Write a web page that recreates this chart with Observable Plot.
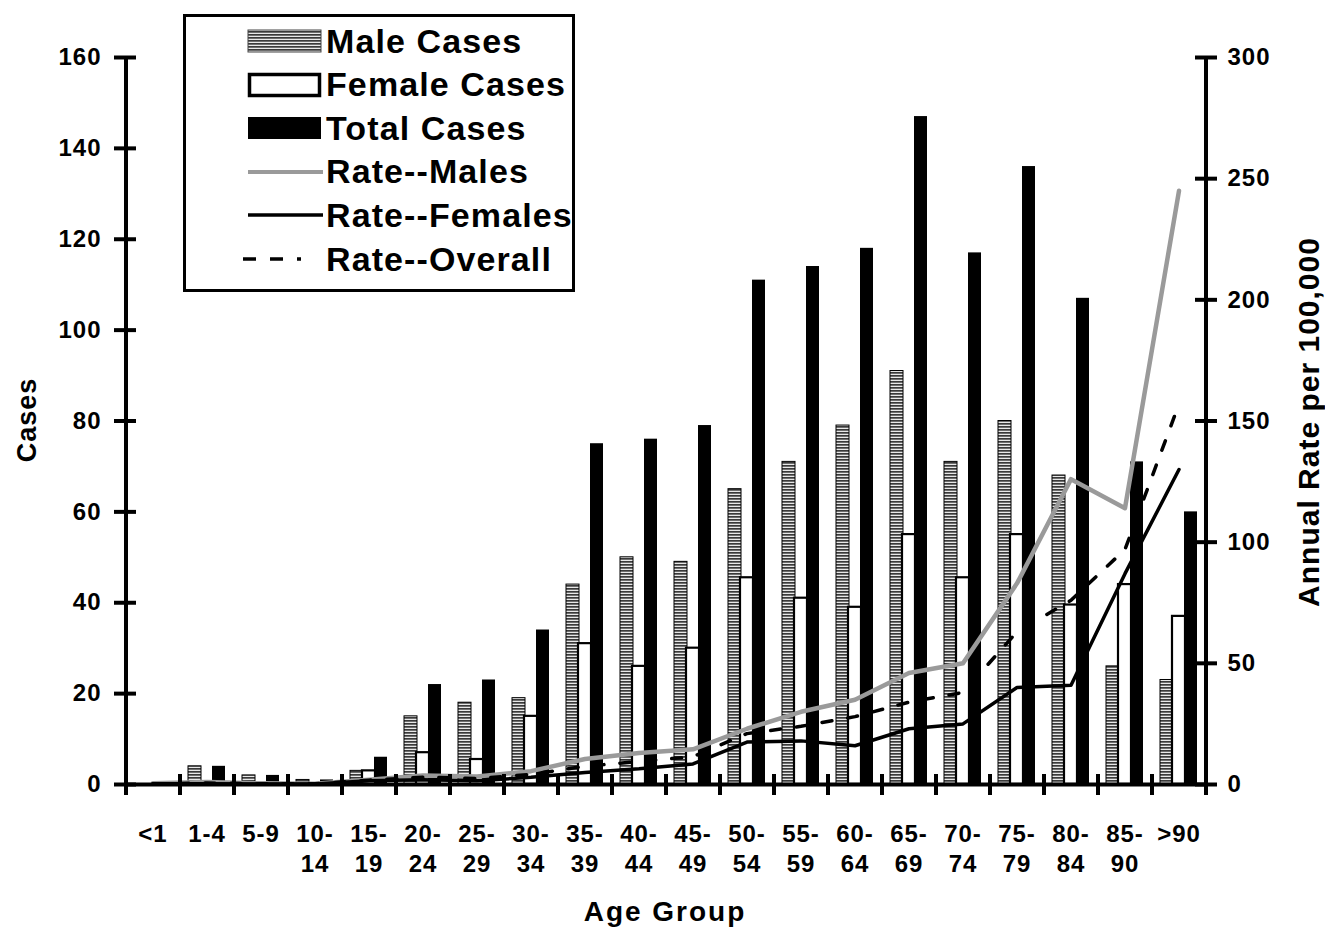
<!DOCTYPE html>
<html><head><meta charset="utf-8">
<script src="https://cdn.jsdelivr.net/npm/d3@7"></script>
<script src="https://cdn.jsdelivr.net/npm/@observablehq/plot@0.6"></script>
<style>
body{margin:0;background:#fff;font-family:"Liberation Sans",Arial,sans-serif;}
#wrap{position:relative;width:1325px;height:928px;overflow:hidden;}
#chart svg text{font-weight:bold;letter-spacing:1px;}
.t{position:absolute;font-weight:bold;color:#000;white-space:nowrap;}
#ytitle{left:27px;top:420px;transform:translate(-50%,-50%) rotate(-90deg);font-size:27px;letter-spacing:1px;}
#y2title{left:1309px;top:422px;transform:translate(-50%,-50%) rotate(-90deg);font-size:30px;letter-spacing:1px;}
#xtitle{left:665px;top:912px;transform:translate(-50%,-50%);font-size:28px;letter-spacing:2px;}
#legend{position:absolute;left:183px;top:14px;width:386px;height:272px;border:3px solid #000;background:#fff;}
.row{position:absolute;left:0;height:44px;display:flex;align-items:center;white-space:nowrap;}
.row svg{margin-left:57px;display:block;flex:none;}
.row span{font-size:34px;font-weight:bold;letter-spacing:1.1px;margin-left:1px;color:#000;white-space:nowrap;}
</style></head>
<body><div id="wrap"><div id="chart"></div><div id="legend"></div>
<div class="t" id="ytitle">Cases</div>
<div class="t" id="y2title">Annual Rate per 100,000</div>
<div class="t" id="xtitle">Age Group</div>
</div>
<script>
const ages = ["<1","1-4","5-9","10-\n14","15-\n19","20-\n24","25-\n29","30-\n34","35-\n39","40-\n44","45-\n49","50-\n54","55-\n59","60-\n64","65-\n69","70-\n74","75-\n79","80-\n84","85-\n90",">90"];
const maleCases   = [0,4,2,1,3,15,18,19,44,50,49,65,71,79,91,71,80,68,26,23];
const femaleCases = [0,0,0,0,3,7,5.5,15,31,26,30,45.5,41,39,55,45.5,55,39.5,44,37];
const totalCases  = [0,4,2,1,6,22,23,34,75,76,79,111,114,118,147,117,136,107,71,60];
const rateMales   = [0.5,1,0.5,0.3,2,3.7,3.3,5.5,10.5,13,14.5,23,30,35,46,50,83,126,114,245];
const rateFemales = [0.3,0.3,0.2,0.2,1.5,2,1.5,3,5,6.5,8.5,17.5,18,16,23,25,40,41,87,130];
const rateOverall = [0.3,0.6,0.3,0.3,1.8,3,2.5,4.2,7.5,9.5,11.5,21,24,28,34,38,63,76,97,157];
const caseTicks = [0,20,40,60,80,100,120,140,160];
const rateTicks = [0,50,100,150,200,250,300];
const caseMax = 160, rateMax = 300;
const r2c = r => r * caseMax / rateMax;

const rows = ages.map((age,i)=>({age, male:maleCases[i], female:femaleCases[i], total:totalCases[i],
  rm:rateMales[i], rf:rateFemales[i], ro:rateOverall[i]}));

function hatchDefs(){
  const defs = document.createElementNS("http://www.w3.org/2000/svg","defs");
  defs.innerHTML = '<pattern id="hatch" width="6" height="3" patternUnits="userSpaceOnUse"><rect width="6" height="3" fill="#e8e8e8"/><rect width="6" height="1.7" fill="#3a3a3a"/></pattern>';
  return defs;
}

const tickStyle = {strokeWidth:4, text:null, label:null};
const chart = Plot.plot({
  width:1325, height:928,
  marginLeft:125, marginRight:120, marginTop:57, marginBottom:144,
  style:{fontFamily:'"Liberation Sans", Arial, sans-serif', background:"#fff", color:"#000"},
  x:{domain:ages, type:"band", paddingInner:1-12.5/54, paddingOuter:(1-12.5/54)/2, axis:null},
  y:{domain:[0,caseMax], axis:null},
  marks:[
    hatchDefs,
    Plot.barY(rows,{x:"age", y:"male", dx:-12, fill:"url(#hatch)", stroke:"#000", strokeWidth:1}),
    Plot.barY(rows,{x:"age", y:"female", dx:0, fill:"#fff", stroke:"#000", strokeWidth:2.2}),
    Plot.barY(rows,{x:"age", y:"total", dx:12, fill:"#000"}),
    Plot.lineY(rows,{x:"age", y:d=>r2c(d.rm), stroke:"#9a9a9a", strokeWidth:4.5}),
    Plot.lineY(rows,{x:"age", y:d=>r2c(d.rf), stroke:"#000", strokeWidth:3.5}),
    Plot.lineY(rows,{x:"age", y:d=>r2c(d.ro), stroke:"#000", strokeWidth:3.5, strokeDasharray:"10,16"}),
    Plot.ruleY([0],{strokeWidth:4}),
    Plot.ruleX([ages[0]],{x:d=>d, dx:-27, y1:0, y2:caseMax, strokeWidth:4}),
    Plot.ruleX([ages[ages.length-1]],{x:d=>d, dx:27, y1:0, y2:caseMax, strokeWidth:4}),
    Plot.axisX({ticks:ages, tickSize:21, dy:-10, dx:-27, ...tickStyle}),
    Plot.axisX({ticks:[ages[ages.length-1]], tickSize:21, dy:-10, dx:27, ...tickStyle}),
    Plot.axisX({ticks:ages, tickSize:0, tickPadding:36, fontSize:24, lineHeight:1.25, label:null}),
    Plot.axisY({ticks:caseTicks, tickSize:22, dx:11, ...tickStyle}),
    Plot.axisY({ticks:caseTicks, tickSize:0, tickPadding:24, fontSize:24, label:null}),
    Plot.axisY({anchor:"right", ticks:rateTicks.map(r2c), tickSize:22, dx:-11, ...tickStyle}),
    Plot.axisY({anchor:"right", ticks:rateTicks.map(r2c), tickSize:0, tickPadding:22, fontSize:24, label:null,
      tickFormat:d=>String(Math.round(d*rateMax/caseMax))})
  ]
});
document.getElementById("chart").appendChild(chart);

// legend
const legendItems = [
  {label:"Male Cases", kind:"hatch"},
  {label:"Female Cases", kind:"open"},
  {label:"Total Cases", kind:"solid"},
  {label:"Rate--Males", kind:"gray"},
  {label:"Rate--Females", kind:"line"},
  {label:"Rate--Overall", kind:"dash"}
];
const sw = {
  hatch:'<defs><pattern id="hatchL" width="6" height="3" patternUnits="userSpaceOnUse"><rect width="6" height="3" fill="#e8e8e8"/><rect width="6" height="1.7" fill="#3a3a3a"/></pattern></defs><rect x="5" y="11" width="73" height="22" fill="url(#hatchL)" stroke="#444" stroke-width="1"/>',
  open:'<rect x="6.5" y="11.5" width="70" height="21" fill="#fff" stroke="#000" stroke-width="3.5"/>',
  solid:'<rect x="5" y="11" width="73" height="22" fill="#000"/>',
  gray:'<line x1="5" x2="80" y1="22" y2="22" stroke="#9a9a9a" stroke-width="4"/>',
  line:'<line x1="5" x2="80" y1="22" y2="22" stroke="#000" stroke-width="3.5"/>',
  dash:'<line x1="0" x2="58" y1="22" y2="22" stroke="#000" stroke-width="3.5" stroke-dasharray="13,14"/>'
};
const leg = document.getElementById("legend");
legendItems.forEach((it,i)=>{
  const r = document.createElement("div");
  r.className="row";
  r.style.top = (2 + i*43.6) + "px";
  r.innerHTML = `<svg width="82" height="44" viewBox="0 0 82 44">${sw[it.kind]}</svg><span>${it.label}</span>`;
  leg.appendChild(r);
});
</script>
</body></html>
